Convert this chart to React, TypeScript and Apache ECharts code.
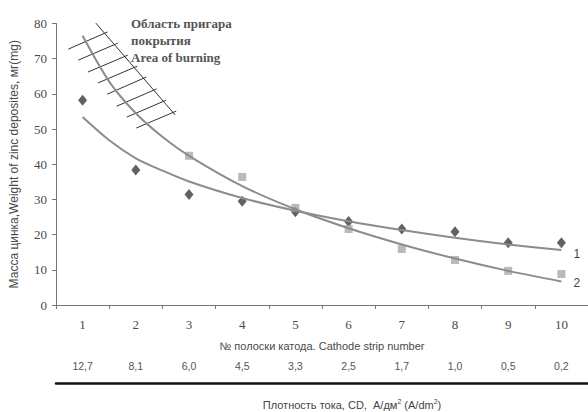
import React, { useEffect, useRef } from "react";
import * as echarts from "echarts";

const stripNumbers = ["1", "2", "3", "4", "5", "6", "7", "8", "9", "10"];
const currentDensity = ["12,7", "8,1", "6,0", "4,5", "3,3", "2,5", "1,7", "1,0", "0,5", "0,2"];

// series 1 (diamonds)
const series1Points: [number, number][] = [
  [1, 58.2], [2, 38.4], [3, 31.4], [4, 29.5], [5, 26.5],
  [6, 23.7], [7, 21.6], [8, 20.8], [9, 17.7], [10, 17.7],
];
// series 2 (squares)
const series2Points: [number, number][] = [
  [3, 42.4], [4, 36.4], [5, 27.6], [6, 21.6], [7, 15.9], [8, 12.8], [9, 9.7], [10, 8.8],
];
// trend curves
const trend1: [number, number][] = [
  [1, 53.4], [1.5, 46.8], [2, 41.7], [2.5, 38.2], [3, 35.1], [4, 30.4], [5, 26.8],
  [6, 23.8], [7, 21.3], [8, 19.1], [9, 17.2], [10, 15.6],
];
const trend2: [number, number][] = [
  [1, 76.5], [1.5, 63.5], [2, 54.5], [2.5, 47.8], [3, 42.4], [4, 33.8], [5, 27.2],
  [6, 21.8], [7, 17.2], [8, 13.2], [9, 9.7], [10, 6.7],
];
// hatched "area of burning" boundary and hatch strokes (data coordinates)
const burnBoundary: [number, number][] = [[1.25, 80.1], [2.74, 54.0]];
const hatchStrokes: [number, number][][] = [
  [[0.73, 72.7], [1.47, 77.6]],
  [[0.92, 69.6], [1.66, 74.4]],
  [[1.10, 66.2], [1.85, 71.0]],
  [[1.29, 63.1], [2.03, 67.9]],
  [[1.46, 59.9], [2.20, 64.8]],
  [[1.64, 56.5], [2.39, 61.4]],
  [[1.83, 53.4], [2.57, 58.2]],
  [[2.01, 50.3], [2.76, 55.1]],
];

const SERIF = "'Liberation Serif', 'DejaVu Serif', serif";
const SANS = "'Liberation Sans', Arial, sans-serif";

export default function App() {
  const ref = useRef<HTMLDivElement>(null);
  useEffect(() => {
    if (!ref.current) return;
    const chart = echarts.init(ref.current, null, { renderer: "svg" });
    chart.setOption({
      animation: false,
      backgroundColor: "#ffffff",
      grid: { left: 56, right: -5, top: 23.5, bottom: 107, containLabel: false },
      xAxis: [
        {
          type: "value",
          min: 0.5,
          max: 10.5,
          show: false,
        },
        {
          type: "category",
          position: "bottom",
          data: stripNumbers,
          boundaryGap: true,
          axisLine: { lineStyle: { color: "#777", width: 1 } },
          axisTick: { show: true, length: 4, lineStyle: { color: "#777" } },
          axisLabel: { fontFamily: SERIF, fontSize: 13, color: "#4a4a4a", margin: 13 },
          name: "№ полоски катода. Cathode strip number",
          nameLocation: "middle",
          nameGap: 35,
          nameTextStyle: { fontFamily: SANS, fontSize: 11, color: "#4a4a4a" },
        },
        {
          type: "category",
          position: "bottom",
          offset: 78,
          data: currentDensity,
          boundaryGap: true,
          axisLine: { lineStyle: { color: "#111", width: 2.5 } },
          axisTick: { show: false },
          axisLabel: { inside: true, fontFamily: SANS, fontSize: 10.5, color: "#555", margin: 12 },
        },
      ],
      yAxis: {
        type: "value",
        min: 0,
        max: 80,
        interval: 10,
        splitLine: { show: false },
        axisLine: { show: true, lineStyle: { color: "#777" } },
        axisTick: { show: true, length: 4, lineStyle: { color: "#777" } },
        axisLabel: { fontFamily: SERIF, fontSize: 13, color: "#4a4a4a", margin: 9 },
        name: "Масса цинка,Weight of zinc deposites, мг(mg)",
        nameLocation: "middle",
        nameGap: 36,
        nameTextStyle: { fontFamily: SANS, fontSize: 12, color: "#4a4a4a" },
      },
      series: [
        {
          type: "lines",
          coordinateSystem: "cartesian2d",
          xAxisIndex: 0,
          silent: true,
          lineStyle: { color: "#333", width: 1, opacity: 1 },
          data: [{ coords: burnBoundary }, ...hatchStrokes.map((c) => ({ coords: c }))],
        },
        {
          type: "line",
          xAxisIndex: 0,
          data: trend1,
          smooth: 0.3,
          showSymbol: false,
          lineStyle: { color: "#8c8c8c", width: 2 },
          endLabel: {
            show: true,
            formatter: "1",
            distance: 12,
            offset: [0, 4],
            fontFamily: SANS,
            fontSize: 12,
            color: "#444",
          },
        },
        {
          type: "line",
          xAxisIndex: 0,
          data: trend2,
          smooth: 0.3,
          showSymbol: false,
          lineStyle: { color: "#8c8c8c", width: 2 },
          endLabel: {
            show: true,
            formatter: "2",
            distance: 12,
            offset: [0, 2],
            fontFamily: SANS,
            fontSize: 12,
            color: "#444",
          },
        },
        {
          type: "scatter",
          xAxisIndex: 0,
          data: series1Points,
          symbol: "diamond",
          symbolSize: [9, 11],
          itemStyle: { color: "#3a3a3a" },
        },
        {
          type: "scatter",
          xAxisIndex: 0,
          data: series2Points,
          symbol: "rect",
          symbolSize: 8,
          itemStyle: { color: "#a9a9a9" },
        },
      ],
      graphic: [
        {
          type: "text",
          left: 131,
          top: 15,
          style: {
            text: "Область пригара\nпокрытия\nArea of burning",
            fontFamily: SERIF,
            fontWeight: "bold",
            fontSize: 13,
            lineHeight: 17,
            fill: "#555",
          },
        },
        {
          type: "text",
          x: 352,
          y: 405,
          style: {
            text: "{a|Плотность тока, CD,  А/дм}{s|2}{a| (A/dm}{s|2}{a|)}",
            align: "center",
            verticalAlign: "middle",
            rich: {
              a: { fontFamily: SANS, fontSize: 11, fill: "#444" },
              s: { fontFamily: SANS, fontSize: 7, fill: "#444", padding: [0, 0, 7, 0] },
            },
          },
        },
      ],
    });
    return () => chart.dispose();
  }, []);
  return <div ref={ref} style={{ width: 588, height: 412, position: "absolute", left: 0, top: 0 }} />;
}
